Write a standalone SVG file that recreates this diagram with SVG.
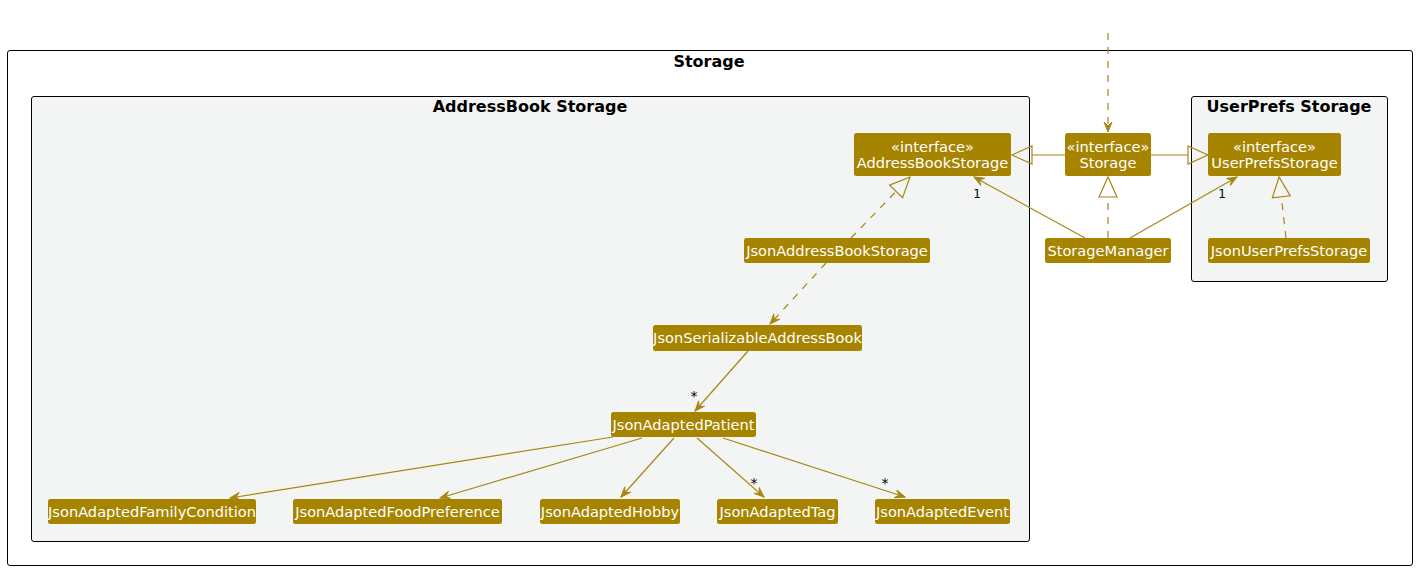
<svg xmlns="http://www.w3.org/2000/svg" width="1416" height="570" viewBox="0 0 1416 570">
<style>
.frame{fill:#FFFFFF;stroke:#000000;stroke-width:1}
.pkg{fill:#F3F5F4;stroke:#000000;stroke-width:1}
.title{font-family:"DejaVu Sans",sans-serif;font-weight:bold;font-size:16px;fill:#000000;text-anchor:middle}
.node rect{fill:#A68400;stroke:none}
.node text{font-family:"DejaVu Sans",sans-serif;font-size:14.6px;fill:#FFFFFF;text-anchor:middle}
.edge{fill:none;stroke:#A68712;stroke-width:1.2}
.dash{stroke-dasharray:7,7}
.lbl{font-family:"DejaVu Sans",sans-serif;font-size:12px;fill:#000000;text-anchor:middle}
.star{font-family:"DejaVu Sans",sans-serif;font-size:14px;fill:#000000;text-anchor:middle}
</style>
<defs>
<marker id="arrow" markerUnits="userSpaceOnUse" markerWidth="14" markerHeight="12" refX="11" refY="5" orient="auto" viewBox="0 0 14 12">
<path d="M11,5 L1,1 L5,5 L1,9 Z" fill="#A68712" stroke="#A68712" stroke-width="1"/>
</marker>
<marker id="tri" markerUnits="userSpaceOnUse" markerWidth="24" markerHeight="22" refX="1" refY="11" orient="auto" viewBox="0 0 24 22">
<path d="M1,2 L21,11 L1,20 Z" fill="none" stroke="#A68712" stroke-width="1.2"/>
</marker>
</defs>

<g id="frame-storage">
<rect class="frame" x="7.5" y="50.5" width="1405" height="515" rx="2.5"/>
<text class="title" x="709" y="67">Storage</text>
</g>
<g id="pkg-addressbook">
<rect class="pkg" x="31.5" y="96.5" width="998" height="445" rx="2.5"/>
<text class="title" x="530" y="112">AddressBook Storage</text>
</g>
<g id="pkg-userprefs">
<rect class="pkg" x="1191.5" y="96.5" width="196" height="185" rx="2.5"/>
<text class="title" x="1289" y="112">UserPrefs Storage</text>
</g>

<g id="connectors">
<line class="edge dash" x1="1108" y1="33" x2="1108" y2="132" marker-end="url(#arrow)"/>
<line class="edge" x1="1065" y1="155" x2="1032" y2="155" marker-end="url(#tri)"/>
<line class="edge" x1="1151" y1="155" x2="1188" y2="155" marker-end="url(#tri)"/>
<line class="edge dash" x1="1108" y1="238" x2="1108" y2="197" marker-end="url(#tri)"/>
<line class="edge" x1="1085" y1="238" x2="974" y2="177" marker-end="url(#arrow)"/>
<line class="edge" x1="1130" y1="238" x2="1237" y2="177" marker-end="url(#arrow)"/>
<line class="edge dash" x1="1286" y1="238" x2="1281.3" y2="196.9" marker-end="url(#tri)"/>
<line class="edge dash" x1="851" y1="238" x2="896.1" y2="191.4" marker-end="url(#tri)"/>
<line class="edge dash" x1="826" y1="263" x2="770" y2="324" marker-end="url(#arrow)"/>
<line class="edge" x1="748" y1="351" x2="695" y2="411" marker-end="url(#arrow)"/>
<line class="edge" x1="613" y1="437" x2="230" y2="498" marker-end="url(#arrow)"/>
<line class="edge" x1="642" y1="438" x2="440" y2="498" marker-end="url(#arrow)"/>
<line class="edge" x1="674" y1="438" x2="621" y2="497" marker-end="url(#arrow)"/>
<line class="edge" x1="697" y1="438" x2="764" y2="497" marker-end="url(#arrow)"/>
<line class="edge" x1="723" y1="438" x2="905" y2="497" marker-end="url(#arrow)"/>
<text class="lbl" x="977" y="198">1</text>
<text class="lbl" x="1222" y="198">1</text>
<text class="star" x="694" y="401">*</text>
<text class="star" x="754" y="488">*</text>
<text class="star" x="885" y="488">*</text>
</g>

<g id="AddressBookStorage" class="node">
<rect x="854" y="133" width="157" height="43" rx="2.5"/>
<text x="932.5" y="152">«interface»</text>
<text x="932.5" y="168">AddressBookStorage</text>
</g>
<g id="Storage" class="node">
<rect x="1065" y="133" width="86" height="43" rx="2.5"/>
<text x="1108" y="152">«interface»</text>
<text x="1108" y="168">Storage</text>
</g>
<g id="UserPrefsStorage" class="node">
<rect x="1208" y="133" width="133" height="43" rx="2.5"/>
<text x="1274.5" y="152">«interface»</text>
<text x="1274.5" y="168">UserPrefsStorage</text>
</g>
<g id="JsonAddressBookStorage" class="node">
<rect x="744" y="238" width="186" height="25" rx="2.5"/>
<text x="837" y="256">JsonAddressBookStorage</text>
</g>
<g id="StorageManager" class="node">
<rect x="1045" y="238" width="126" height="25" rx="2.5"/>
<text x="1108" y="256">StorageManager</text>
</g>
<g id="JsonUserPrefsStorage" class="node">
<rect x="1208" y="238" width="162" height="25" rx="2.5"/>
<text x="1289" y="256">JsonUserPrefsStorage</text>
</g>
<g id="JsonSerializableAddressBook" class="node">
<rect x="653" y="325" width="209" height="26" rx="2.5"/>
<text x="757.5" y="343">JsonSerializableAddressBook</text>
</g>
<g id="JsonAdaptedPatient" class="node">
<rect x="611" y="412" width="145" height="25" rx="2.5"/>
<text x="683.5" y="430">JsonAdaptedPatient</text>
</g>
<g id="JsonAdaptedFamilyCondition" class="node">
<rect x="48" y="499" width="208" height="25" rx="2.5"/>
<text x="152" y="517">JsonAdaptedFamilyCondition</text>
</g>
<g id="JsonAdaptedFoodPreference" class="node">
<rect x="293" y="499" width="209" height="25" rx="2.5"/>
<text x="397.5" y="517">JsonAdaptedFoodPreference</text>
</g>
<g id="JsonAdaptedHobby" class="node">
<rect x="540" y="499" width="140" height="25" rx="2.5"/>
<text x="610" y="517">JsonAdaptedHobby</text>
</g>
<g id="JsonAdaptedTag" class="node">
<rect x="717" y="499" width="121" height="25" rx="2.5"/>
<text x="777.5" y="517">JsonAdaptedTag</text>
</g>
<g id="JsonAdaptedEvent" class="node">
<rect x="875" y="499" width="135" height="25" rx="2.5"/>
<text x="942.5" y="517">JsonAdaptedEvent</text>
</g>
</svg>
